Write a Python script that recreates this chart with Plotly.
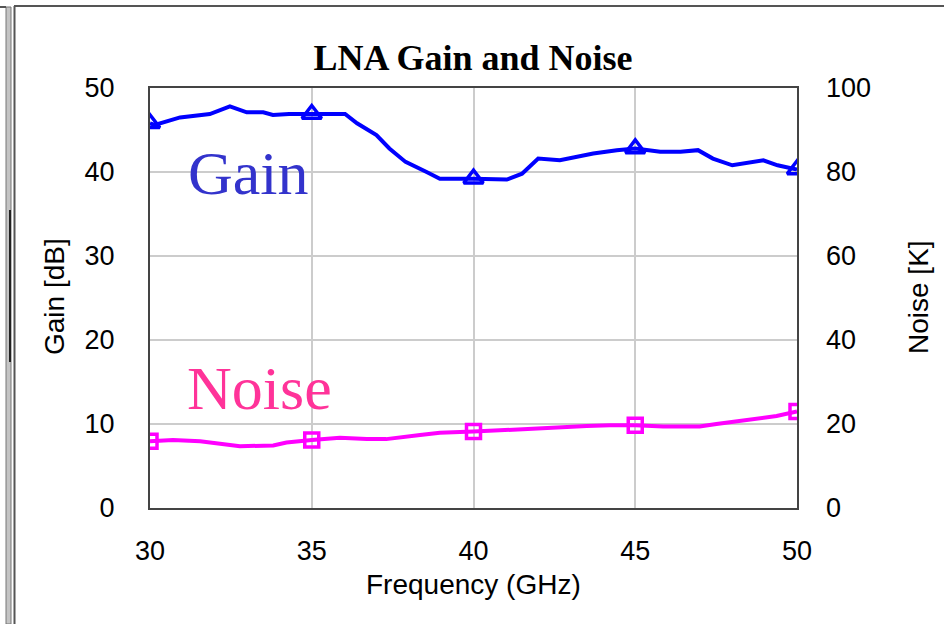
import plotly.graph_objects as go

# Gain measurement (dB) vs frequency (GHz)
freq_gain = [30.0, 30.15, 30.93, 31.85, 32.47, 32.99, 33.5, 33.8, 34.3, 35.0,
             36.03, 36.4, 37.0, 37.4, 37.9, 38.55, 38.96, 40.0, 41.03, 41.5,
             42.0, 42.67, 43.7, 44.43, 45.0, 45.77, 46.4, 46.94, 47.4, 48.0,
             48.55, 48.96, 49.4, 50.0]
gain_db = [45.8, 45.6, 46.5, 46.9, 47.8, 47.1, 47.1, 46.8, 46.9, 46.9,
           46.9, 45.8, 44.4, 42.8, 41.2, 40.0, 39.2, 39.2, 39.1, 39.8,
           41.6, 41.4, 42.2, 42.6, 42.8, 42.4, 42.4, 42.6, 41.6, 40.8,
           41.1, 41.4, 40.8, 40.3]

# Noise temperature (K) vs frequency (GHz)
freq_noise = [30.0, 30.71, 31.55, 32.27, 32.78, 33.81, 34.22, 35.0, 35.87, 36.7,
              37.3, 38.35, 38.96, 40.0, 41.23, 42.26, 43.5, 44.22, 45.0, 45.86,
              46.99, 47.51, 48.13, 48.64, 49.37, 50.0]
noise_k = [15.9, 16.2, 15.9, 15.1, 14.7, 14.9, 15.6, 16.2, 16.7, 16.4,
           16.4, 17.4, 17.9, 18.2, 18.7, 19.2, 19.5, 19.7, 19.7, 19.4,
           19.4, 20.0, 20.6, 21.2, 21.9, 23.0]

x_ticks = [30, 35, 40, 45, 50]
gain_ticks = [0, 10, 20, 30, 40, 50]
noise_ticks = [0, 20, 40, 60, 80, 100]
marker_freqs = [30, 35, 40, 45, 50]

# plot-area geometry in pixels (for placing paper-referenced decorations)
W, H = 944, 624
L, R, T, B = 150, 797, 88, 508


def px(x):
    return (x - L) / (R - L)


def py(y):
    return (B - y) / (B - T)


gain_mk = [(f, g) for f, g in zip(freq_gain, gain_db) if f in marker_freqs]
noise_mk = [(f, n) for f, n in zip(freq_noise, noise_k) if f in marker_freqs]

BLUE = "#0000ff"
MAGENTA = "#ff00ff"

fig = go.Figure()
fig.add_trace(go.Scatter(x=freq_gain, y=gain_db, mode="lines",
                         line=dict(color=BLUE, width=4), showlegend=False))
fig.add_trace(go.Scatter(x=[p[0] for p in gain_mk], y=[p[1] for p in gain_mk],
                         mode="markers", showlegend=False,
                         marker=dict(symbol="triangle-up-open", size=17,
                                     color=BLUE, line=dict(width=3.5, color=BLUE))))
fig.add_trace(go.Scatter(x=freq_noise, y=noise_k, mode="lines", yaxis="y2",
                         line=dict(color=MAGENTA, width=4), showlegend=False))
fig.add_trace(go.Scatter(x=[p[0] for p in noise_mk], y=[p[1] for p in noise_mk],
                         mode="markers", yaxis="y2", showlegend=False,
                         marker=dict(symbol="square-open", size=14,
                                     color=MAGENTA, line=dict(width=3.5, color=MAGENTA))))

tick_font = dict(family="Liberation Sans, Arial, sans-serif", size=27, color="#000")
title_font = dict(family="Liberation Sans, Arial, sans-serif", size=28, color="#000")
serif = "Liberation Serif, Times New Roman, serif"

fig.update_layout(
    width=W, height=H,
    margin=dict(l=L, r=W - R, t=T, b=H - B),
    paper_bgcolor="white", plot_bgcolor="white",
    title=dict(text="LNA Gain and Noise", x=473 / W,
               xanchor="center", y=1 - 57 / H, yanchor="middle",
               font=dict(family=serif, size=36, color="#000", weight="bold")),
    xaxis=dict(range=[30, 50], tickvals=x_ticks, showgrid=True,
               gridcolor="#cccccc", gridwidth=1.5, zeroline=False,
               showline=True, linecolor="#444", linewidth=2, mirror=True,
               ticks="", ticklabelstandoff=18, tickfont=tick_font),
    yaxis=dict(range=[0, 50], tickvals=gain_ticks, showgrid=True,
               gridcolor="#cccccc", gridwidth=1.5, zeroline=False,
               showline=True, linecolor="#444", linewidth=2, mirror=True,
               ticks="", ticklabelstandoff=28, tickfont=tick_font),
    yaxis2=dict(range=[0, 100], tickvals=noise_ticks, overlaying="y",
                side="right", showgrid=False, zeroline=False,
                showline=False, ticks="", ticklabelstandoff=28,
                tickfont=tick_font),
    annotations=[
        dict(text="Frequency (GHz)", xref="paper", yref="paper",
             x=px(473), y=py(584), showarrow=False, font=title_font,
             xanchor="center", yanchor="middle"),
        dict(text="Gain [dB]", xref="paper", yref="paper", textangle=-90,
             x=px(54), y=py(297), showarrow=False, font=title_font,
             xanchor="center", yanchor="middle"),
        dict(text="Noise [K]", xref="paper", yref="paper", textangle=-90,
             x=px(918), y=py(297), showarrow=False, font=title_font,
             xanchor="center", yanchor="middle"),
        dict(text="Gain", xref="paper", yref="paper",
             x=px(248), y=py(173), showarrow=False,
             font=dict(family=serif, size=62, color="#3333cc"),
             xanchor="center", yanchor="middle"),
        dict(text="Noise", xref="paper", yref="paper",
             x=px(259), y=py(388), showarrow=False,
             font=dict(family=serif, size=62, color="#ff3399"),
             xanchor="center", yanchor="middle"),
    ],
    shapes=[
        # window frame around the chart
        dict(type="line", xref="paper", yref="paper", x0=px(14), x1=px(944),
             y0=py(6), y1=py(6), line=dict(color="#555", width=2)),
        dict(type="line", xref="paper", yref="paper", x0=px(14.5), x1=px(14.5),
             y0=py(6), y1=py(624), line=dict(color="#555", width=2)),
        dict(type="rect", xref="paper", yref="paper", x0=px(6), x1=px(11),
             y0=py(7), y1=py(624), fillcolor="#c4c4c4",
             line=dict(color="#777", width=1)),
        dict(type="line", xref="paper", yref="paper", x0=px(0), x1=px(6),
             y0=py(7), y1=py(7), line=dict(color="#555", width=2)),
        dict(type="line", xref="paper", yref="paper", x0=px(10), x1=px(10),
             y0=py(210), y1=py(362), line=dict(color="#222", width=2)),
    ],
)

fig.write_html("out.html")
